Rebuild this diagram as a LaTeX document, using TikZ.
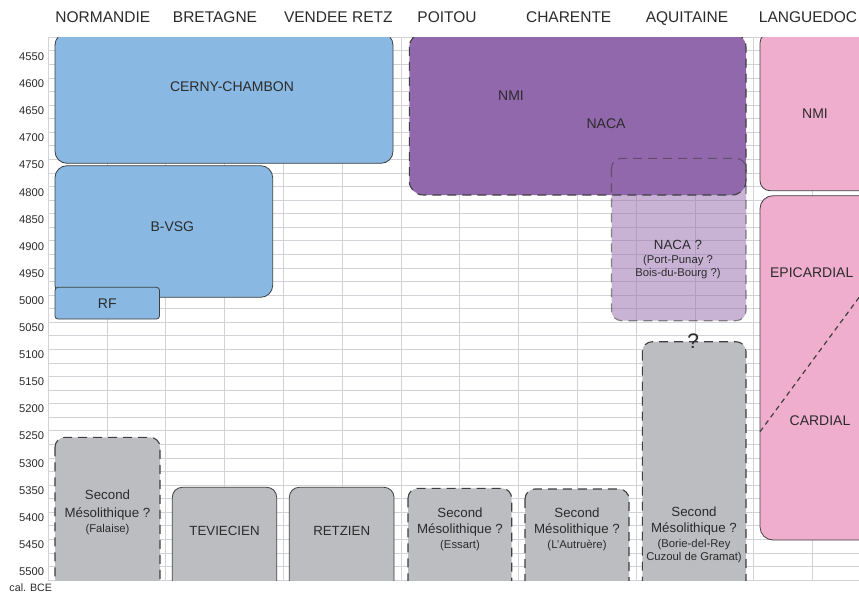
\documentclass[tikz,border=0pt]{standalone}
\usepackage{fontspec}
\setsansfont{Liberation Sans}

\definecolor{bluebox}{HTML}{89B9E2}
\definecolor{purplebox}{HTML}{9268AC}
\definecolor{pinkbox}{HTML}{F0AECF}
\definecolor{graybox}{HTML}{BCBDC0}
\definecolor{gridgray}{HTML}{D2D3D8}
\definecolor{edgegray}{HTML}{3F3F3F}
\definecolor{ink}{HTML}{2B2B2B}

\begin{document}
\begin{tikzpicture}[x=1pt,y=-1pt,
    every node/.style={text=ink,inner sep=0pt,font=\sffamily},
    grid line/.style={gridgray,line width=0.9pt},
    box/.style={draw=edgegray,line width=0.8pt,rounded corners=10pt},
    unsure box/.style={box,line width=1.1pt,dash pattern=on 9pt off 6pt},
    region/.style={text depth=0pt,font=\sffamily\fontsize{15.5}{18}\selectfont},
    year/.style={anchor=east,font=\sffamily\fontsize{11.2}{13}\selectfont},
    culture/.style={font=\sffamily\fontsize{14}{16}\selectfont},
    meso/.style={align=center,font=\sffamily\fontsize{13.3}{16}\selectfont},
    site/.style={font=\sffamily\fontsize{11.3}{13}\selectfont}]
  \useasboundingbox (0,0) rectangle (859,594);

  \foreach \i in {0,...,40}
    \draw[grid line] (48.3,37.3+13.57*\i) -- (859,37.3+13.57*\i);
  \foreach \i in {0,...,14}
    \draw[grid line] (48.3+58.8*\i,37.3) -- (48.3+58.8*\i,580);

  \begin{scope}
    \clip (48.3,37.3) rectangle (859,580);
    \draw[box,fill=bluebox,rounded corners=12pt] (55,33) rectangle (393,163.3);
    \draw[box,fill=bluebox,rounded corners=12pt] (55,165.7) rectangle (272.7,297.3);
    \draw[box,fill=bluebox,rounded corners=3pt] (55,287.3) rectangle (159.5,319);
    \fill[purplebox,fill opacity=0.5,rounded corners=10pt] (611.5,158.3) rectangle (746,320.7);
    \draw[unsure box,fill=purplebox,rounded corners=14pt] (409.3,33) rectangle (746,195);
    \draw[unsure box,draw opacity=0.6] (611.5,158.3) rectangle (746,320.7);
    \draw[box,fill=pinkbox] (760,33) rectangle (880,190.7);
    \draw[box,fill=pinkbox,rounded corners=13pt] (760,195.7) rectangle (880,540);
    \draw[unsure box,fill=graybox] (55,437.3) rectangle (160,600);
    \draw[box,fill=graybox] (172.3,487.3) rectangle (276.7,600);
    \draw[box,fill=graybox] (289.3,487.3) rectangle (394,600);
    \draw[unsure box,fill=graybox] (408,488.3) rectangle (511.7,600);
    \draw[unsure box,fill=graybox] (525,489) rectangle (629,600);
    \draw[unsure box,fill=graybox] (642.3,341.7) rectangle (746,600);
    \coordinate (cardial) at (760,431.7);
    \coordinate (epicardial) at (880,269);
    \draw[edgegray,line width=1.2pt,dash pattern=on 5pt off 4pt] (cardial) -- (epicardial);
  \end{scope}

  \foreach \name [count=\k] / \xpos in {NORMANDIE/102.8,BRETAGNE/215,VENDEE RETZ/338.3,POITOU/447,CHARENTE/568.7,AQUITAINE/687,LANGUEDOC/808}
    \node[region] (h\k) at (\xpos,17.5) {\name};
  \foreach \y [count=\k from 0] in {4550,4600,...,5500}
    \node[year] (y\y) at (44.3,56.7+27.1*\k) {\y};
  \node[year,anchor=center,font=\sffamily\fontsize{10.7}{12}\selectfont] (cal) at (30.8,587.3) {cal. BCE};

  \node[culture] (1) at (232,87) {CERNY-CHAMBON};
  \node[culture] (2) at (172.3,226.7) {B-VSG};
  \node[culture] (3) at (107.3,304) {RF};
  \node[culture] (4) at (511,96) {NMI};
  \node[culture] (5) at (606,123.3) {NACA};
  \node[culture] (6) at (815,114) {NMI};
  \node[culture] (7) at (811.7,272.3) {EPICARDIAL};
  \node[culture] (8) at (820,421) {CARDIAL};
  \node[meso] (9) at (678,259.4) {NACA ?\\[-2.2pt]{\fontsize{11.3}{13}\selectfont (Port-Punay ?}\\[-3.4pt]{\fontsize{11.3}{13}\selectfont Bois-du-Bourg ?)}};
  \node[meso] (10) at (107.5,512) {Second\\[2pt]Mésolithique ?\\[-1pt]{\fontsize{11.3}{13}\selectfont (Falaise)}};
  \node[culture,font=\sffamily\fontsize{13.3}{16}\selectfont] (11) at (224.5,530.7) {TEVIECIEN};
  \node[culture,font=\sffamily\fontsize{13.3}{16}\selectfont] (12) at (341.7,530.7) {RETZIEN};
  \node[meso] (13) at (460,529.3) {Second\\Mésolithique ?\\[-0.3pt]{\fontsize{11.3}{13}\selectfont (Essart)}};
  \node[meso] (14) at (577,529.3) {Second\\Mésolithique ?\\[-0.3pt]{\fontsize{11.3}{13}\selectfont (L'Autruère)}};
  \node[meso] (15) at (694,534.7) {Second\\Mésolithique ?\\[-0.3pt]{\fontsize{11.3}{13}\selectfont (Borie-del-Rey}\\[-3.3pt]{\fontsize{11.3}{13}\selectfont Cuzoul de Gramat)}};
  \node[font=\sffamily\fontsize{21}{24}\selectfont] (16) at (693.3,341) {?};
\end{tikzpicture}
\end{document}
